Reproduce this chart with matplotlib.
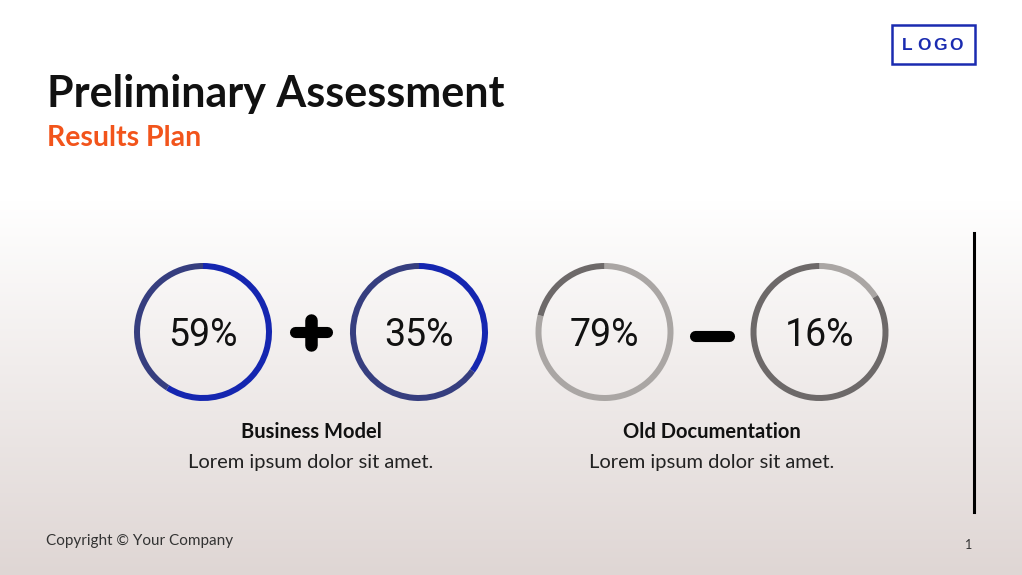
import numpy as np
import matplotlib.pyplot as plt
from matplotlib.patches import Wedge, Rectangle

# ring data
values = [59, 35, 79, 16]
value_labels = ['59%', '35%', '79%', '16%']
ring_x = [203, 419, 604.5, 819.5]
fill_colors = ['#1526b0', '#1526b0', '#aaa6a4', '#aaa6a4']
rest_colors = ['#363e7f', '#363e7f', '#6d6969', '#6d6969']

group_titles = ['Business Model', 'Old Documentation']
group_texts = ['Lorem ipsum dolor sit amet.', 'Lorem ipsum dolor sit amet.']
group_x = [311, 712]
group_signs = ['plus', 'minus']

logo_letters = ['L', 'O', 'G', 'O']
logo_x = [907, 923.5, 940, 956]

W, H = 1022, 575
ring_y = 332
r_out = 69
ring_w = 6

fig = plt.figure(figsize=(W / 100, H / 100), dpi=100)
ax = fig.add_axes([0, 0, 1, 1])
ax.set_xlim(0, W)
ax.set_ylim(H, 0)
ax.axis('off')

# background: white on top, fading to warm grey at the bottom
top = np.array([255, 255, 255]) / 255
bot = np.array([223, 214, 212]) / 255
yy = np.arange(H)
t = np.clip((yy - 200) / (H - 200), 0, 1)[:, None]
grad = (1 - t) * top + t * bot
ax.imshow(grad[:, None, :], extent=[0, W, H, 0], aspect='auto', zorder=0)

# title
ax.text(47, 107, 'Preliminary Assessment', fontsize=31, fontweight='bold',
        family='Lato', color='#111111', va='baseline')
ax.text(47, 146, 'Results Plan', fontsize=20.5, fontweight='bold',
        family='Lato', color='#f2541b', va='baseline')

# logo
ax.add_patch(Rectangle((892, 25), 83, 39, fill=False, ec='#1a2bb0', lw=1.8))
for ch, lx in zip(logo_letters, logo_x):
    ax.text(lx, 50, ch, fontsize=12.5, fontweight='heavy', family='Liberation Sans',
            color='#1a2bb0', ha='center', va='baseline')

# rings (y axis inverted -> ccw in data = clockwise on screen)
for v, lab, x, c1, c2 in zip(values, value_labels, ring_x, fill_colors, rest_colors):
    a = -90 + 3.6 * v
    ax.add_patch(Wedge((x, ring_y), r_out, -90, a, width=ring_w, color=c1, lw=0))
    ax.add_patch(Wedge((x, ring_y), r_out, a, 270, width=ring_w, color=c2, lw=0))
    ax.text(x, 346, lab, fontsize=27, family='Roboto',
            color='#111111', ha='center', va='baseline')

# plus / minus signs and captions
for gx, sign, tt, tx in zip(group_x, group_signs, group_titles, group_texts):
    if sign == 'plus':
        ax.plot([gx - 16, gx + 16], [ring_y, ring_y], color='black', lw=8,
                solid_capstyle='round')
        ax.plot([gx, gx], [ring_y - 12, ring_y + 13], color='black', lw=9,
                solid_capstyle='round')
    else:
        ax.plot([gx - 17, gx + 17], [ring_y + 4, ring_y + 4], color='black', lw=8,
                solid_capstyle='round')
    ax.text(gx, 438, tt, fontsize=14.5, fontweight='bold', family='Lato',
            color='#111111', ha='center', va='baseline')
    ax.text(gx, 468, tx, fontsize=14.5, fontweight='normal', family='Lato',
            color='#222222', ha='center', va='baseline')

# right side bar
ax.plot([974, 974], [233, 512], color='black', lw=2.2)

# footer
ax.text(46, 545, 'Copyright © Your Company', fontsize=11, fontweight='normal',
        family='Lato', color='#333333', va='baseline')
ax.text(969, 549, '1', fontsize=9, family='Lato', color='#333333',
        ha='center', va='baseline')

fig.savefig('out.png', dpi=100)
